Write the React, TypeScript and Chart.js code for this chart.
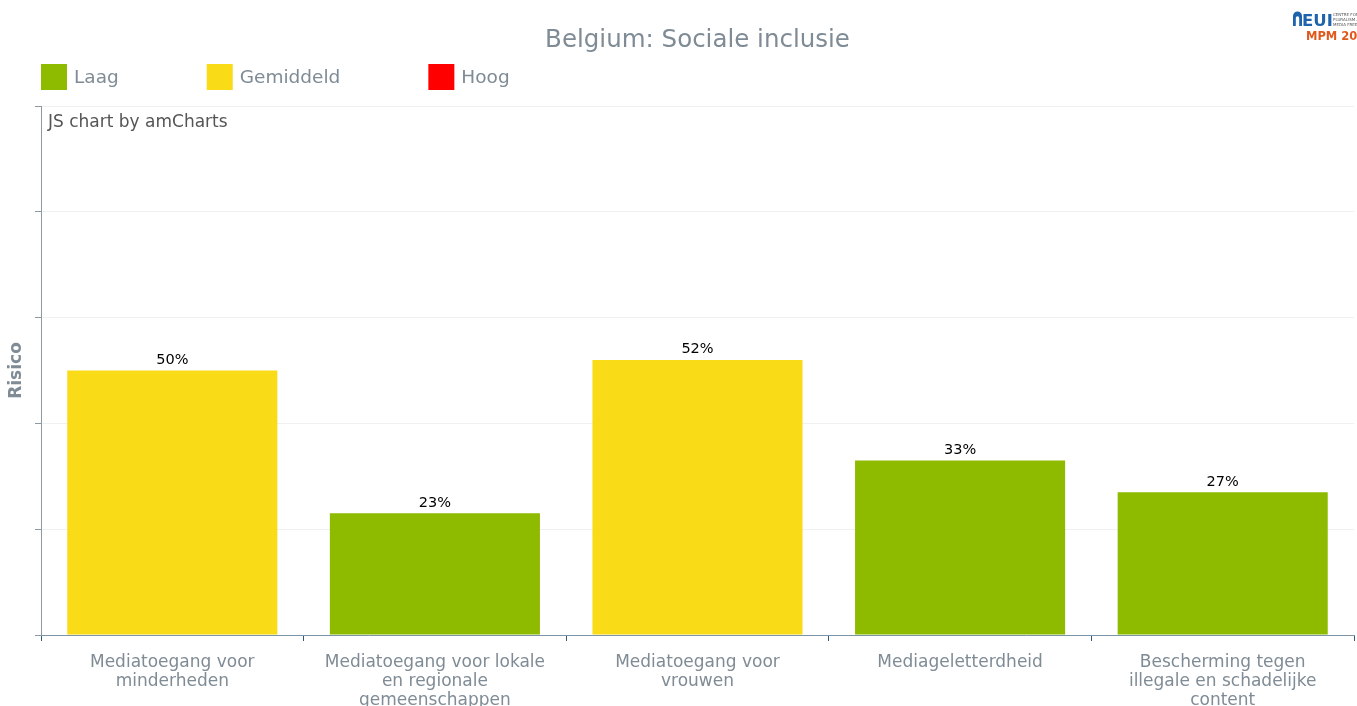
import React, { useEffect, useRef } from "react";
import { Chart, registerables } from "chart.js";

Chart.register(...registerables);

const chartTitle = "Belgium: Sociale inclusie";
const categories: string[][] = [
  ["Mediatoegang voor", "minderheden"],
  ["Mediatoegang voor lokale", "en regionale", "gemeenschappen"],
  ["Mediatoegang voor", "vrouwen"],
  ["Mediageletterdheid"],
  ["Bescherming tegen", "illegale en schadelijke", "content"],
];
const values: number[] = [50, 23, 52, 33, 27];
const riskLevels: number[] = [1, 0, 1, 0, 0];
const legendLabels: string[] = ["Laag", "Gemiddeld", "Hoog"];
const legendColors: string[] = ["#8EBA00", "#FADB17", "#FF0000"];
const yAxisTitle = "Risico";

const FONT = '"DejaVu Sans", Verdana, sans-serif';
const GRAY = "#7f8b95";

const decorPlugin = {
  id: "decor",
  afterDraw(chart: any) {
    const ctx = chart.ctx as CanvasRenderingContext2D;
    const ca = chart.chartArea;
    ctx.save();
    // title
    ctx.font = `24.5px ${FONT}`;
    ctx.fillStyle = GRAY;
    ctx.textAlign = "center";
    ctx.textBaseline = "middle";
    ctx.fillText(chartTitle, (ca.left + ca.right) / 2, 41);
    // legend
    ctx.font = `18.5px ${FONT}`;
    ctx.textAlign = "left";
    let x = ca.left;
    legendLabels.forEach((lab, i) => {
      ctx.fillStyle = legendColors[i];
      ctx.fillRect(x, 64, 26, 26);
      ctx.fillStyle = GRAY;
      ctx.fillText(lab, x + 33, 78);
      x += 33 + ctx.measureText(lab).width + 88;
    });
    // watermark
    ctx.font = `17px ${FONT}`;
    ctx.fillStyle = "#555555";
    ctx.fillText("JS chart by amCharts", ca.left + 7, 123);
    // logo
    const lx = 1293;
    ctx.fillStyle = "#1f63ad";
    ctx.beginPath();
    ctx.moveTo(lx, 26);
    ctx.lineTo(lx, 16);
    ctx.arc(lx + 4.5, 16, 4.5, Math.PI, 0);
    ctx.lineTo(lx + 9, 26);
    ctx.lineTo(lx + 6.2, 26);
    ctx.lineTo(lx + 6.2, 18);
    ctx.arc(lx + 4.5, 18, 1.7, 0, Math.PI, true);
    ctx.lineTo(lx + 2.8, 26);
    ctx.closePath();
    ctx.fill();
    ctx.font = `bold 16.5px ${FONT}`;
    ctx.textBaseline = "alphabetic";
    ctx.fillText("EUI", lx + 9, 26);
    ctx.font = `4px ${FONT}`;
    ctx.fillStyle = "#555";
    ctx.fillText("CENTRE FOR MEDIA", lx + 40, 16);
    ctx.fillText("PLURALISM AND", lx + 40, 21);
    ctx.fillText("MEDIA FREEDOM", lx + 40, 26);
    ctx.font = `bold 11.5px ${FONT}`;
    ctx.fillStyle = "#e0581c";
    ctx.fillText("MPM 2022", lx + 13, 40);
    // value labels
    const meta = chart.getDatasetMeta(0);
    ctx.font = `14.5px ${FONT}`;
    ctx.fillStyle = "#000";
    ctx.textAlign = "center";
    ctx.textBaseline = "bottom";
    meta.data.forEach((bar: any, i: number) => {
      ctx.fillText(`${values[i]}%`, bar.x, bar.y - 3);
    });
    ctx.restore();
  },
};

export default function App() {
  const ref = useRef<HTMLCanvasElement>(null);
  useEffect(() => {
    const chart = new Chart(ref.current!, {
      type: "bar",
      data: {
        labels: categories,
        datasets: [
          {
            label: yAxisTitle,
            data: values,
            backgroundColor: riskLevels.map((l) => legendColors[l]),
            borderWidth: 0,
            categoryPercentage: 0.8,
            barPercentage: 1,
          },
        ],
      },
      options: {
        animation: false,
        responsive: false,
        maintainAspectRatio: false,
        layout: { padding: { top: 106, right: 3, left: 0, bottom: 0 } },
        plugins: {
          legend: { display: false },
          title: { display: false },
          tooltip: { enabled: false },
        },
        scales: {
          x: {
            afterFit: (s: any) => {
              s.height = 71;
            },
            grid: {
              offset: true,
              drawOnChartArea: false,
              drawTicks: true,
              tickLength: 6,
              tickColor: "#2b5b7e",
            },
            border: { display: true, color: "#7d94a6", width: 1 },
            ticks: {
              color: GRAY,
              font: { family: FONT, size: 17, lineHeight: 1.12 },
              padding: 12,
              maxRotation: 0,
              autoSkip: false,
            },
          },
          y: {
            min: 0,
            max: 100,
            afterFit: (s: any) => {
              s.width = 41;
            },
            ticks: { display: false, stepSize: 20 },
            grid: {
              color: "#f0f0f0",
              drawTicks: true,
              tickLength: 6,
              tickColor: "#8d99a3",
            },
            border: { display: true, color: "#8d99a3", width: 1 },
            title: {
              display: true,
              text: yAxisTitle,
              color: GRAY,
              font: { family: FONT, size: 17, weight: "bold" },
              padding: { top: 6, bottom: 0 },
            },
          },
        },
      },
      plugins: [decorPlugin],
    });
    return () => chart.destroy();
  }, []);
  return (
    <div style={{ position: "fixed", left: 0, top: 0, width: 1357, height: 706, background: "#fff" }}>
      <canvas ref={ref} width={1357} height={706} style={{ display: "block" }} />
    </div>
  );
}
